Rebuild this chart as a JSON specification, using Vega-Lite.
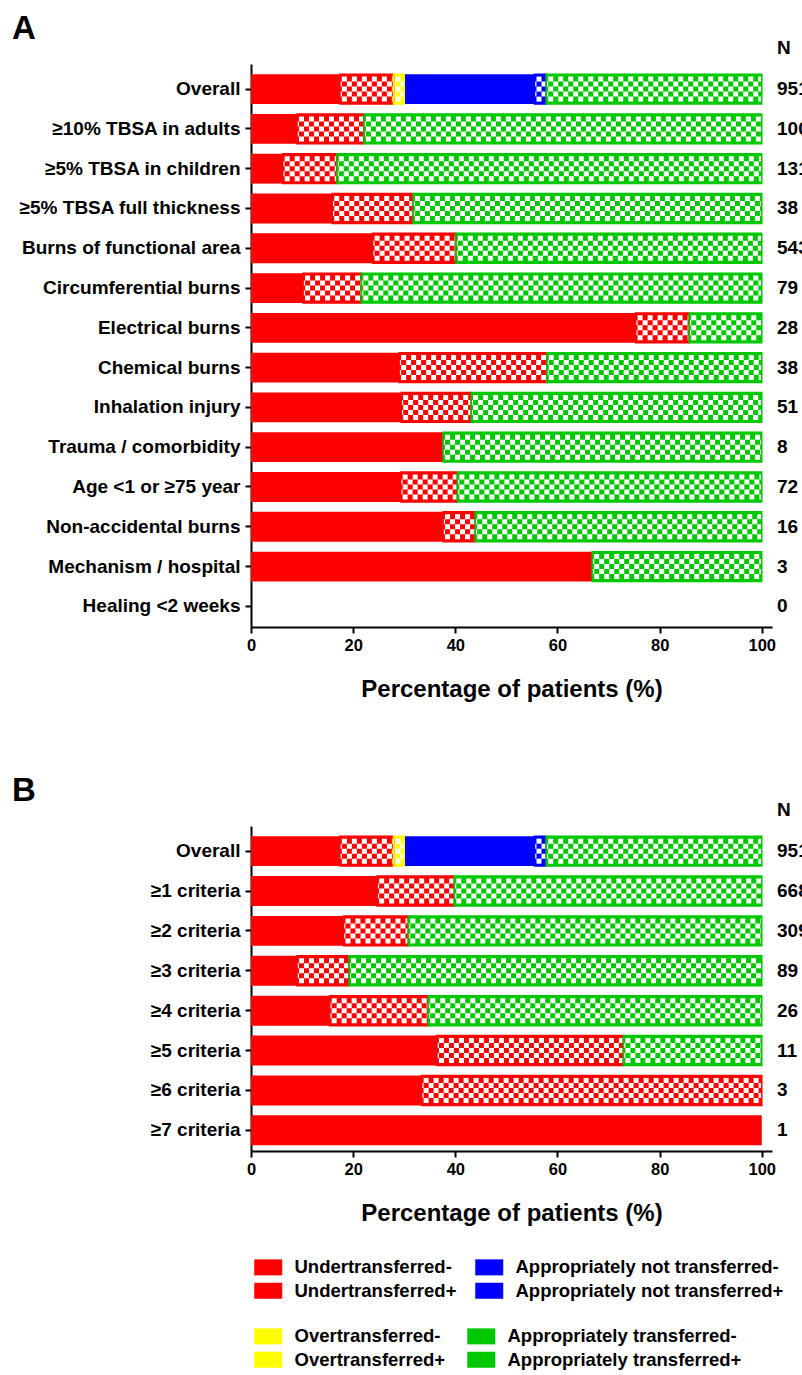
{
  "$schema": "https://vega.github.io/schema/vega-lite/v6.json",
  "autosize": {"type": "pad"},
  "padding": {"left": 12, "top": 13, "right": 0, "bottom": 0},
  "background": "white",
  "datasets": {
    "rows": [
      {"panel": "A", "kind": "seg", "row": "Overall", "type": "Undertransferred-", "start": 0, "end": 17.4},
      {"panel": "A", "kind": "seg", "row": "Overall", "type": "Undertransferred+", "start": 17.4, "end": 27.9},
      {"panel": "A", "kind": "seg", "row": "Overall", "type": "Overtransferred+", "start": 27.9, "end": 30.0},
      {"panel": "A", "kind": "seg", "row": "Overall", "type": "Appropriately not transferred-", "start": 30.0, "end": 55.5},
      {"panel": "A", "kind": "seg", "row": "Overall", "type": "Appropriately not transferred+", "start": 55.5, "end": 57.8},
      {"panel": "A", "kind": "seg", "row": "Overall", "type": "Appropriately transferred+", "start": 57.8, "end": 100},
      {"panel": "A", "kind": "seg", "row": "≥10% TBSA in adults", "type": "Undertransferred-", "start": 0, "end": 9.0},
      {"panel": "A", "kind": "seg", "row": "≥10% TBSA in adults", "type": "Undertransferred+", "start": 9.0, "end": 22.1},
      {"panel": "A", "kind": "seg", "row": "≥10% TBSA in adults", "type": "Appropriately transferred+", "start": 22.1, "end": 100},
      {"panel": "A", "kind": "seg", "row": "≥5% TBSA in children", "type": "Undertransferred-", "start": 0, "end": 6.2},
      {"panel": "A", "kind": "seg", "row": "≥5% TBSA in children", "type": "Undertransferred+", "start": 6.2, "end": 16.8},
      {"panel": "A", "kind": "seg", "row": "≥5% TBSA in children", "type": "Appropriately transferred+", "start": 16.8, "end": 100},
      {"panel": "A", "kind": "seg", "row": "≥5% TBSA full thickness", "type": "Undertransferred-", "start": 0, "end": 15.9},
      {"panel": "A", "kind": "seg", "row": "≥5% TBSA full thickness", "type": "Undertransferred+", "start": 15.9, "end": 31.7},
      {"panel": "A", "kind": "seg", "row": "≥5% TBSA full thickness", "type": "Appropriately transferred+", "start": 31.7, "end": 100},
      {"panel": "A", "kind": "seg", "row": "Burns of functional area", "type": "Undertransferred-", "start": 0, "end": 23.8},
      {"panel": "A", "kind": "seg", "row": "Burns of functional area", "type": "Undertransferred+", "start": 23.8, "end": 40.1},
      {"panel": "A", "kind": "seg", "row": "Burns of functional area", "type": "Appropriately transferred+", "start": 40.1, "end": 100},
      {"panel": "A", "kind": "seg", "row": "Circumferential burns", "type": "Undertransferred-", "start": 0, "end": 10.2},
      {"panel": "A", "kind": "seg", "row": "Circumferential burns", "type": "Undertransferred+", "start": 10.2, "end": 21.6},
      {"panel": "A", "kind": "seg", "row": "Circumferential burns", "type": "Appropriately transferred+", "start": 21.6, "end": 100},
      {"panel": "A", "kind": "seg", "row": "Electrical burns", "type": "Undertransferred-", "start": 0, "end": 75.3},
      {"panel": "A", "kind": "seg", "row": "Electrical burns", "type": "Undertransferred+", "start": 75.3, "end": 85.8},
      {"panel": "A", "kind": "seg", "row": "Electrical burns", "type": "Appropriately transferred+", "start": 85.8, "end": 100},
      {"panel": "A", "kind": "seg", "row": "Chemical burns", "type": "Undertransferred-", "start": 0, "end": 29.0},
      {"panel": "A", "kind": "seg", "row": "Chemical burns", "type": "Undertransferred+", "start": 29.0, "end": 57.9},
      {"panel": "A", "kind": "seg", "row": "Chemical burns", "type": "Appropriately transferred+", "start": 57.9, "end": 100},
      {"panel": "A", "kind": "seg", "row": "Inhalation injury", "type": "Undertransferred-", "start": 0, "end": 29.4},
      {"panel": "A", "kind": "seg", "row": "Inhalation injury", "type": "Undertransferred+", "start": 29.4, "end": 43.1},
      {"panel": "A", "kind": "seg", "row": "Inhalation injury", "type": "Appropriately transferred+", "start": 43.1, "end": 100},
      {"panel": "A", "kind": "seg", "row": "Trauma / comorbidity", "type": "Undertransferred-", "start": 0, "end": 37.6},
      {"panel": "A", "kind": "seg", "row": "Trauma / comorbidity", "type": "Appropriately transferred+", "start": 37.6, "end": 100},
      {"panel": "A", "kind": "seg", "row": "Age <1 or ≥75 year", "type": "Undertransferred-", "start": 0, "end": 29.3},
      {"panel": "A", "kind": "seg", "row": "Age <1 or ≥75 year", "type": "Undertransferred+", "start": 29.3, "end": 40.4},
      {"panel": "A", "kind": "seg", "row": "Age <1 or ≥75 year", "type": "Appropriately transferred+", "start": 40.4, "end": 100},
      {"panel": "A", "kind": "seg", "row": "Non-accidental burns", "type": "Undertransferred-", "start": 0, "end": 37.6},
      {"panel": "A", "kind": "seg", "row": "Non-accidental burns", "type": "Undertransferred+", "start": 37.6, "end": 43.9},
      {"panel": "A", "kind": "seg", "row": "Non-accidental burns", "type": "Appropriately transferred+", "start": 43.9, "end": 100},
      {"panel": "A", "kind": "seg", "row": "Mechanism / hospital", "type": "Undertransferred-", "start": 0, "end": 66.8},
      {"panel": "A", "kind": "seg", "row": "Mechanism / hospital", "type": "Appropriately transferred+", "start": 66.8, "end": 100},
      {"panel": "B", "kind": "seg", "row": "Overall", "type": "Undertransferred-", "start": 0, "end": 17.4},
      {"panel": "B", "kind": "seg", "row": "Overall", "type": "Undertransferred+", "start": 17.4, "end": 27.9},
      {"panel": "B", "kind": "seg", "row": "Overall", "type": "Overtransferred+", "start": 27.9, "end": 30.0},
      {"panel": "B", "kind": "seg", "row": "Overall", "type": "Appropriately not transferred-", "start": 30.0, "end": 55.5},
      {"panel": "B", "kind": "seg", "row": "Overall", "type": "Appropriately not transferred+", "start": 55.5, "end": 57.8},
      {"panel": "B", "kind": "seg", "row": "Overall", "type": "Appropriately transferred+", "start": 57.8, "end": 100},
      {"panel": "B", "kind": "seg", "row": "≥1 criteria", "type": "Undertransferred-", "start": 0, "end": 24.7},
      {"panel": "B", "kind": "seg", "row": "≥1 criteria", "type": "Undertransferred+", "start": 24.7, "end": 39.8},
      {"panel": "B", "kind": "seg", "row": "≥1 criteria", "type": "Appropriately transferred+", "start": 39.8, "end": 100},
      {"panel": "B", "kind": "seg", "row": "≥2 criteria", "type": "Undertransferred-", "start": 0, "end": 18.1},
      {"panel": "B", "kind": "seg", "row": "≥2 criteria", "type": "Undertransferred+", "start": 18.1, "end": 30.8},
      {"panel": "B", "kind": "seg", "row": "≥2 criteria", "type": "Appropriately transferred+", "start": 30.8, "end": 100},
      {"panel": "B", "kind": "seg", "row": "≥3 criteria", "type": "Undertransferred-", "start": 0, "end": 9.0},
      {"panel": "B", "kind": "seg", "row": "≥3 criteria", "type": "Undertransferred+", "start": 9.0, "end": 19.2},
      {"panel": "B", "kind": "seg", "row": "≥3 criteria", "type": "Appropriately transferred+", "start": 19.2, "end": 100},
      {"panel": "B", "kind": "seg", "row": "≥4 criteria", "type": "Undertransferred-", "start": 0, "end": 15.4},
      {"panel": "B", "kind": "seg", "row": "≥4 criteria", "type": "Undertransferred+", "start": 15.4, "end": 34.7},
      {"panel": "B", "kind": "seg", "row": "≥4 criteria", "type": "Appropriately transferred+", "start": 34.7, "end": 100},
      {"panel": "B", "kind": "seg", "row": "≥5 criteria", "type": "Undertransferred-", "start": 0, "end": 36.4},
      {"panel": "B", "kind": "seg", "row": "≥5 criteria", "type": "Undertransferred+", "start": 36.4, "end": 72.9},
      {"panel": "B", "kind": "seg", "row": "≥5 criteria", "type": "Appropriately transferred+", "start": 72.9, "end": 100},
      {"panel": "B", "kind": "seg", "row": "≥6 criteria", "type": "Undertransferred-", "start": 0, "end": 33.4},
      {"panel": "B", "kind": "seg", "row": "≥6 criteria", "type": "Undertransferred+", "start": 33.4, "end": 100},
      {"panel": "B", "kind": "seg", "row": "≥7 criteria", "type": "Undertransferred-", "start": 0, "end": 100},
      {"panel": "A", "kind": "head", "row": "Overall", "label": "N"},
      {"panel": "A", "kind": "n", "row": "Overall", "label": "951"},
      {"panel": "A", "kind": "n", "row": "≥10% TBSA in adults", "label": "100"},
      {"panel": "A", "kind": "n", "row": "≥5% TBSA in children", "label": "131"},
      {"panel": "A", "kind": "n", "row": "≥5% TBSA full thickness", "label": "38"},
      {"panel": "A", "kind": "n", "row": "Burns of functional area", "label": "543"},
      {"panel": "A", "kind": "n", "row": "Circumferential burns", "label": "79"},
      {"panel": "A", "kind": "n", "row": "Electrical burns", "label": "28"},
      {"panel": "A", "kind": "n", "row": "Chemical burns", "label": "38"},
      {"panel": "A", "kind": "n", "row": "Inhalation injury", "label": "51"},
      {"panel": "A", "kind": "n", "row": "Trauma / comorbidity", "label": "8"},
      {"panel": "A", "kind": "n", "row": "Age <1 or ≥75 year", "label": "72"},
      {"panel": "A", "kind": "n", "row": "Non-accidental burns", "label": "16"},
      {"panel": "A", "kind": "n", "row": "Mechanism / hospital", "label": "3"},
      {"panel": "A", "kind": "n", "row": "Healing <2 weeks", "label": "0"},
      {"panel": "B", "kind": "head", "row": "Overall", "label": "N"},
      {"panel": "B", "kind": "n", "row": "Overall", "label": "951"},
      {"panel": "B", "kind": "n", "row": "≥1 criteria", "label": "668"},
      {"panel": "B", "kind": "n", "row": "≥2 criteria", "label": "309"},
      {"panel": "B", "kind": "n", "row": "≥3 criteria", "label": "89"},
      {"panel": "B", "kind": "n", "row": "≥4 criteria", "label": "26"},
      {"panel": "B", "kind": "n", "row": "≥5 criteria", "label": "11"},
      {"panel": "B", "kind": "n", "row": "≥6 criteria", "label": "3"},
      {"panel": "B", "kind": "n", "row": "≥7 criteria", "label": "1"}
    ]
  },
  "spacing": 199,
  "bounds": "flush",
  "resolve": {"scale": {"x": "independent", "y": "independent", "fill": "shared", "color": "shared", "stroke": "shared"}},
  "vconcat": [
    {
      "width": 521,
      "height": 563,
      "title": {"text": "A", "anchor": "start", "frame": "group", "dx": -239, "fontSize": 33, "fontWeight": "bold", "color": "#000", "offset": -7},
      "data": {"name": "rows"},
      "transform": [{"filter": "datum.panel === 'A'"}],
      "encoding": {
        "y": {"field": "row", "type": "nominal", "sort": null,
          "scale": {"domain": ["Overall", "≥10% TBSA in adults", "≥5% TBSA in children", "≥5% TBSA full thickness", "Burns of functional area", "Circumferential burns", "Electrical burns", "Chemical burns", "Inhalation injury", "Trauma / comorbidity", "Age <1 or ≥75 year", "Non-accidental burns", "Mechanism / hospital", "Healing <2 weeks"], "paddingInner": 0.25, "paddingOuter": 0.2, "align": 0.64},
          "axis": {"title": null, "labelFontSize": 19, "labelPadding": 5, "labelLimit": 400}}
      },
      "layer": [
        {"mark": {"type": "bar"}, "transform": [{"filter": {"field": "type", "oneOf": ["Undertransferred-", "Undertransferred+", "Appropriately not transferred-", "Appropriately not transferred+"]}}],
          "encoding": {
            "x": {"field": "start", "type": "quantitative",
              "scale": {"domain": [0, 102], "nice": false, "zero": true},
              "axis": {"values": [0, 20, 40, 60, 80, 100], "title": "Percentage of patients (%)", "labelFontSize": 16.5, "titleFontSize": 24, "titlePadding": 24, "labelPadding": 4, "labelFlush": false}},
            "x2": {"field": "end"},
            "fill": {"field": "type", "type": "nominal", "scale": {"domain": ["Undertransferred-", "Undertransferred+", "Appropriately not transferred-", "Appropriately not transferred+"], "range": ["#ff0000", "#ff0000", "#0000ff", "#0000ff"]},
              "legend": {"title": null, "orient": "none", "legendX": 8, "legendY": 1194, "columns": 2, "columnPadding": 18, "rowPadding": 4.5, "symbolType": "M-1.75,-1H1.75V1H-1.75Z", "symbolSize": 256, "labelOffset": 17, "labelFontSize": 18.5, "labelFontWeight": "bold", "labelColor": "#000", "labelLimit": 400, "symbolStrokeWidth": 0}}}},
        {"mark": {"type": "bar"}, "transform": [{"filter": {"field": "type", "oneOf": ["Overtransferred-", "Overtransferred+", "Appropriately transferred-", "Appropriately transferred+"]}}],
          "encoding": {"x": {"field": "start", "type": "quantitative"}, "x2": {"field": "end"},
            "color": {"field": "type", "type": "nominal", "scale": {"domain": ["Overtransferred-", "Overtransferred+", "Appropriately transferred-", "Appropriately transferred+"], "range": ["#ffff00", "#ffff00", "#00c800", "#00c800"]},
              "legend": {"title": null, "orient": "none", "legendX": 8, "legendY": 1263, "columns": 2, "columnPadding": 21, "rowPadding": 4.5, "symbolType": "M-1.75,-1H1.75V1H-1.75Z", "symbolSize": 256, "labelOffset": 17, "labelFontSize": 18.5, "labelFontWeight": "bold", "labelColor": "#000", "labelLimit": 400, "symbolStrokeWidth": 0}}}},
        {"mark": {"type": "rule", "color": "#ffffff", "strokeWidth": 5, "strokeDash": [5, 5], "strokeDashOffset": 8, "yOffset": -10}, "transform": [{"filter": {"field": "type", "oneOf": ["Undertransferred+", "Overtransferred+", "Appropriately not transferred+", "Appropriately transferred+"]}}], "encoding": {"x": {"field": "start", "type": "quantitative"}, "x2": {"field": "end"}}},
        {"mark": {"type": "rule", "color": "#ffffff", "strokeWidth": 5, "strokeDash": [5, 5], "strokeDashOffset": 3, "yOffset": -5}, "transform": [{"filter": {"field": "type", "oneOf": ["Undertransferred+", "Overtransferred+", "Appropriately not transferred+", "Appropriately transferred+"]}}], "encoding": {"x": {"field": "start", "type": "quantitative"}, "x2": {"field": "end"}}},
        {"mark": {"type": "rule", "color": "#ffffff", "strokeWidth": 5, "strokeDash": [5, 5], "strokeDashOffset": 8, "yOffset": 0}, "transform": [{"filter": {"field": "type", "oneOf": ["Undertransferred+", "Overtransferred+", "Appropriately not transferred+", "Appropriately transferred+"]}}], "encoding": {"x": {"field": "start", "type": "quantitative"}, "x2": {"field": "end"}}},
        {"mark": {"type": "rule", "color": "#ffffff", "strokeWidth": 5, "strokeDash": [5, 5], "strokeDashOffset": 3, "yOffset": 5}, "transform": [{"filter": {"field": "type", "oneOf": ["Undertransferred+", "Overtransferred+", "Appropriately not transferred+", "Appropriately transferred+"]}}], "encoding": {"x": {"field": "start", "type": "quantitative"}, "x2": {"field": "end"}}},
        {"mark": {"type": "rule", "color": "#ffffff", "strokeWidth": 5, "strokeDash": [5, 5], "strokeDashOffset": 8, "yOffset": 10}, "transform": [{"filter": {"field": "type", "oneOf": ["Undertransferred+", "Overtransferred+", "Appropriately not transferred+", "Appropriately transferred+"]}}], "encoding": {"x": {"field": "start", "type": "quantitative"}, "x2": {"field": "end"}}},
        {"mark": {"type": "bar", "filled": false, "strokeWidth": 1.5}, "transform": [{"filter": {"field": "type", "oneOf": ["Undertransferred+", "Overtransferred+", "Appropriately not transferred+", "Appropriately transferred+"]}}],
          "encoding": {"x": {"field": "start", "type": "quantitative"}, "x2": {"field": "end"},
            "stroke": {"field": "type", "type": "nominal", "scale": {"domain": ["Undertransferred+", "Overtransferred+", "Appropriately not transferred+", "Appropriately transferred+"], "range": ["#ff0000", "#ffff00", "#0000ff", "#00c800"]}, "legend": null}}},
        {"transform": [{"filter": "datum.kind === 'n'"}],
          "mark": {"type": "text", "align": "left", "baseline": "middle", "dx": 5, "fontSize": 19, "fontWeight": "bold", "color": "#000"},
          "encoding": {"x": {"value": "width"}, "text": {"field": "label", "type": "nominal"}}},
        {"transform": [{"filter": "datum.kind === 'head'"}],
          "mark": {"type": "text", "align": "left", "baseline": "middle", "dx": 5, "dy": -41, "fontSize": 19, "fontWeight": "bold", "color": "#000"},
          "encoding": {"x": {"value": "width"}, "text": {"field": "label", "type": "nominal"}}}
      ]
    },
    {
      "width": 521,
      "height": 325,
      "title": {"text": "B", "anchor": "start", "frame": "group", "dx": -239, "fontSize": 33, "fontWeight": "bold", "color": "#000", "offset": -7},
      "data": {"name": "rows"},
      "transform": [{"filter": "datum.panel === 'B'"}],
      "encoding": {
        "y": {"field": "row", "type": "nominal", "sort": null,
          "scale": {"domain": ["Overall", "≥1 criteria", "≥2 criteria", "≥3 criteria", "≥4 criteria", "≥5 criteria", "≥6 criteria", "≥7 criteria"], "paddingInner": 0.25, "paddingOuter": 0.2, "align": 0.64},
          "axis": {"title": null, "labelFontSize": 19, "labelPadding": 5, "labelLimit": 400}}
      },
      "layer": [
        {"mark": {"type": "bar"}, "transform": [{"filter": {"field": "type", "oneOf": ["Undertransferred-", "Undertransferred+", "Appropriately not transferred-", "Appropriately not transferred+"]}}],
          "encoding": {
            "x": {"field": "start", "type": "quantitative",
              "scale": {"domain": [0, 102], "nice": false, "zero": true},
              "axis": {"values": [0, 20, 40, 60, 80, 100], "title": "Percentage of patients (%)", "labelFontSize": 16.5, "titleFontSize": 24, "titlePadding": 24, "labelPadding": 4, "labelFlush": false}},
            "x2": {"field": "end"},
            "fill": {"field": "type", "type": "nominal", "scale": {"domain": ["Undertransferred-", "Undertransferred+", "Appropriately not transferred-", "Appropriately not transferred+"], "range": ["#ff0000", "#ff0000", "#0000ff", "#0000ff"]}}}},
        {"mark": {"type": "bar"}, "transform": [{"filter": {"field": "type", "oneOf": ["Overtransferred-", "Overtransferred+", "Appropriately transferred-", "Appropriately transferred+"]}}],
          "encoding": {"x": {"field": "start", "type": "quantitative"}, "x2": {"field": "end"},
            "color": {"field": "type", "type": "nominal", "scale": {"domain": ["Overtransferred-", "Overtransferred+", "Appropriately transferred-", "Appropriately transferred+"], "range": ["#ffff00", "#ffff00", "#00c800", "#00c800"]}}}},
        {"mark": {"type": "rule", "color": "#ffffff", "strokeWidth": 5, "strokeDash": [5, 5], "strokeDashOffset": 8, "yOffset": -10}, "transform": [{"filter": {"field": "type", "oneOf": ["Undertransferred+", "Overtransferred+", "Appropriately not transferred+", "Appropriately transferred+"]}}], "encoding": {"x": {"field": "start", "type": "quantitative"}, "x2": {"field": "end"}}},
        {"mark": {"type": "rule", "color": "#ffffff", "strokeWidth": 5, "strokeDash": [5, 5], "strokeDashOffset": 3, "yOffset": -5}, "transform": [{"filter": {"field": "type", "oneOf": ["Undertransferred+", "Overtransferred+", "Appropriately not transferred+", "Appropriately transferred+"]}}], "encoding": {"x": {"field": "start", "type": "quantitative"}, "x2": {"field": "end"}}},
        {"mark": {"type": "rule", "color": "#ffffff", "strokeWidth": 5, "strokeDash": [5, 5], "strokeDashOffset": 8, "yOffset": 0}, "transform": [{"filter": {"field": "type", "oneOf": ["Undertransferred+", "Overtransferred+", "Appropriately not transferred+", "Appropriately transferred+"]}}], "encoding": {"x": {"field": "start", "type": "quantitative"}, "x2": {"field": "end"}}},
        {"mark": {"type": "rule", "color": "#ffffff", "strokeWidth": 5, "strokeDash": [5, 5], "strokeDashOffset": 3, "yOffset": 5}, "transform": [{"filter": {"field": "type", "oneOf": ["Undertransferred+", "Overtransferred+", "Appropriately not transferred+", "Appropriately transferred+"]}}], "encoding": {"x": {"field": "start", "type": "quantitative"}, "x2": {"field": "end"}}},
        {"mark": {"type": "rule", "color": "#ffffff", "strokeWidth": 5, "strokeDash": [5, 5], "strokeDashOffset": 8, "yOffset": 10}, "transform": [{"filter": {"field": "type", "oneOf": ["Undertransferred+", "Overtransferred+", "Appropriately not transferred+", "Appropriately transferred+"]}}], "encoding": {"x": {"field": "start", "type": "quantitative"}, "x2": {"field": "end"}}},
        {"mark": {"type": "bar", "filled": false, "strokeWidth": 1.5}, "transform": [{"filter": {"field": "type", "oneOf": ["Undertransferred+", "Overtransferred+", "Appropriately not transferred+", "Appropriately transferred+"]}}],
          "encoding": {"x": {"field": "start", "type": "quantitative"}, "x2": {"field": "end"},
            "stroke": {"field": "type", "type": "nominal", "scale": {"domain": ["Undertransferred+", "Overtransferred+", "Appropriately not transferred+", "Appropriately transferred+"], "range": ["#ff0000", "#ffff00", "#0000ff", "#00c800"]}, "legend": null}}},
        {"transform": [{"filter": "datum.kind === 'n'"}],
          "mark": {"type": "text", "align": "left", "baseline": "middle", "dx": 5, "fontSize": 19, "fontWeight": "bold", "color": "#000"},
          "encoding": {"x": {"value": "width"}, "text": {"field": "label", "type": "nominal"}}},
        {"transform": [{"filter": "datum.kind === 'head'"}],
          "mark": {"type": "text", "align": "left", "baseline": "middle", "dx": 5, "dy": -41, "fontSize": 19, "fontWeight": "bold", "color": "#000"},
          "encoding": {"x": {"value": "width"}, "text": {"field": "label", "type": "nominal"}}}
      ]
    }
  ],
  "config": {
    "font": "Liberation Sans",
    "view": {"stroke": null},
    "axis": {"domainColor": "#000", "domainWidth": 2, "tickColor": "#000", "tickWidth": 2, "tickSize": 6, "labelColor": "#000", "labelFontWeight": "bold", "titleColor": "#000", "titleFontWeight": "bold", "grid": false}
  }
}
